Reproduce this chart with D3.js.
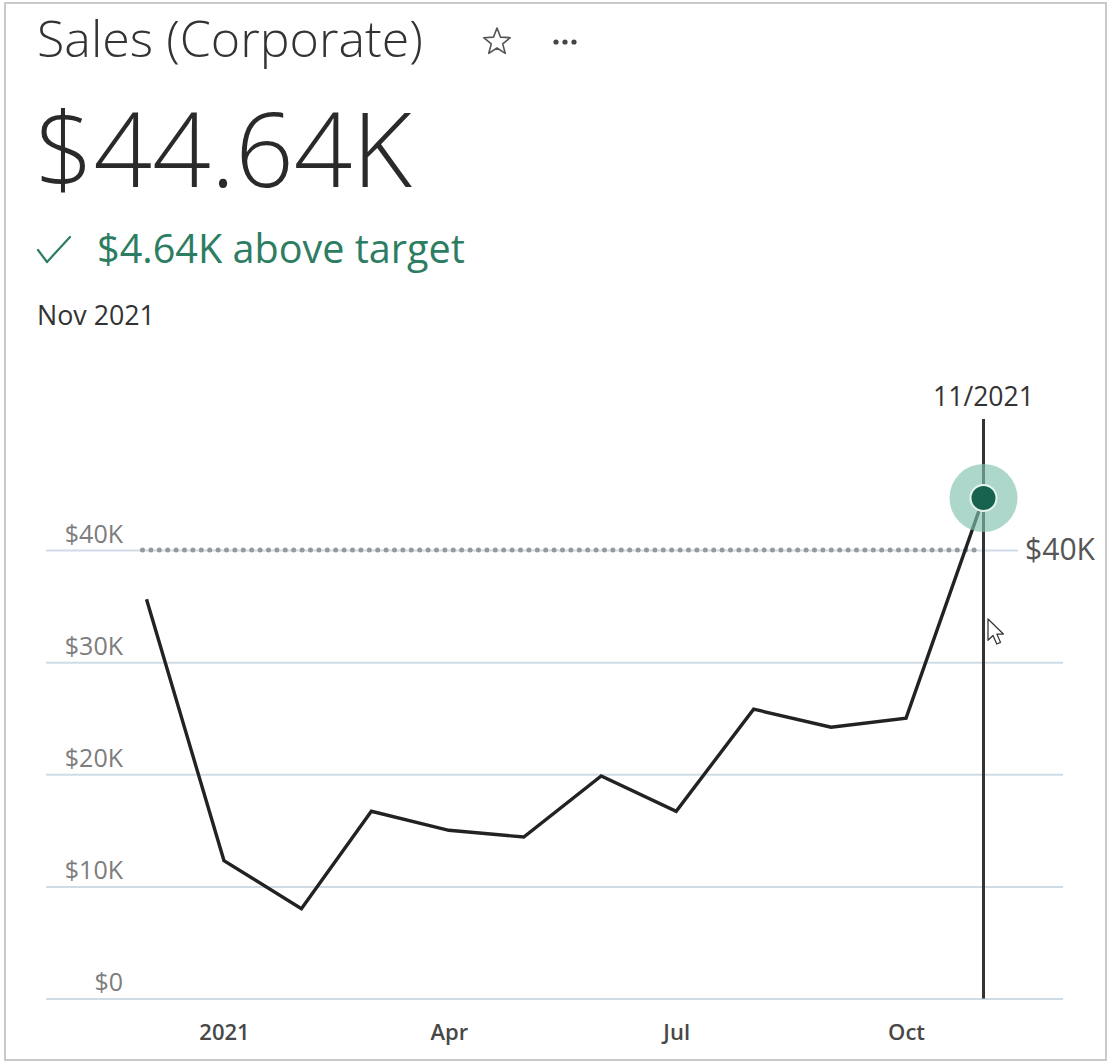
<!DOCTYPE html>
<html>
<head>
<meta charset="utf-8">
<script src="https://cdn.jsdelivr.net/npm/d3@7"></script>
<style>
  body { margin: 0; background: #fff; }
  text { font-family: "Open Sans", "Noto Sans", sans-serif; }
</style>
</head>
<body>
<svg id="chart" width="1109" height="1063"></svg>
<script>
// Monthly corporate sales
const months = ["2020-12", "2021-01", "2021-02", "2021-03", "2021-04", "2021-05",
                "2021-06", "2021-07", "2021-08", "2021-09", "2021-10", "2021-11"];
const sales = [35600, 12300, 8000, 16700, 15000, 14400,
               19850, 16700, 25800, 24200, 25000, 44640];
const target = 40000;

// Axis ticks
const yTicks = [0, 10000, 20000, 30000, 40000];
const yTickLabels = ["$0", "$10K", "$20K", "$30K", "$40K"];
const xTickMonths = ["2021-01", "2021-04", "2021-07", "2021-10"];
const xTickLabels = ["2021", "Apr", "Jul", "Oct"];

const titleText = "Sales (Corporate)";
const selectedIndex = months.length - 1;

const parseMonth = d3.utcParse("%Y-%m");
const data = months.map((m, i) => ({ date: parseMonth(m), value: sales[i] }));
const selected = data[selectedIndex];

const fmtK = v => "$" + d3.format(".2f")(v / 1000) + "K";
const fmtTarget = v => "$" + d3.format("d")(v / 1000) + "K";

const svg = d3.select("#chart");
const green = "#2d7d63";

// Fit a text element to a given width by scaling its font size
function fitWidth(sel, w) {
  const size = parseFloat(sel.attr("font-size"));
  const len = sel.node().getComputedTextLength();
  sel.attr("font-size", (size * w / len).toFixed(2));
  return sel;
}

// Card frame
svg.append("rect")
  .attr("x", 5).attr("y", 3).attr("width", 1101).attr("height", 1057)
  .attr("fill", "#fff").attr("stroke", "#c9c9c9").attr("stroke-width", 2);

// Header
fitWidth(svg.append("text")
  .attr("x", 37).attr("y", 57)
  .attr("font-size", 46).attr("font-weight", 300).attr("fill", "#333")
  .text(titleText), 386);

// Favourite star
const starCx = 497, starCy = 42, rOut = 14, rIn = 6;
const starPts = d3.range(10).map(i => {
  const a = -Math.PI / 2 + i * Math.PI / 5;
  const r = i % 2 === 0 ? rOut : rIn;
  return [starCx + r * Math.cos(a), starCy + r * Math.sin(a)];
});
svg.append("path")
  .attr("d", d3.line()(starPts) + "Z")
  .attr("fill", "none").attr("stroke", "#555").attr("stroke-width", 1.6)
  .attr("stroke-linejoin", "round");

// More menu
svg.selectAll("circle.more").data([556, 565, 574]).join("circle")
  .attr("class", "more")
  .attr("cx", d => d).attr("cy", 42).attr("r", 2.6).attr("fill", "#444");

// Current value
fitWidth(svg.append("text")
  .attr("x", 35).attr("y", 187)
  .attr("font-size", 100).attr("font-weight", 300).attr("fill", "#2a2a2a")
  .text(fmtK(selected.value)), 377);

// Difference to target
svg.append("path")
  .attr("d", "M38,250 L47,262 L70,237")
  .attr("fill", "none").attr("stroke", green).attr("stroke-width", 2.2)
  .attr("stroke-linecap", "round").attr("stroke-linejoin", "round");
fitWidth(svg.append("text")
  .attr("x", 97).attr("y", 263)
  .attr("font-size", 36).attr("fill", green)
  .text(fmtK(selected.value - target) + " above target"), 368);

// Period
fitWidth(svg.append("text")
  .attr("x", 37).attr("y", 325)
  .attr("font-size", 26).attr("fill", "#333")
  .text(d3.utcFormat("%b %Y")(selected.date)), 118);

// Scales
const x = d3.scaleUtc()
  .domain([data[0].date, data[data.length - 1].date])
  .range([146.5, 983.5]);
const y = d3.scaleLinear().domain([0, 40000]).range([998.5, 550]);

const gridLeft = 46, gridRight = 1063;

// Y axis with gridlines
const yAxis = svg.append("g")
  .attr("transform", `translate(${gridLeft},0)`)
  .call(d3.axisLeft(y)
    .tickValues(yTicks)
    .tickFormat((d, i) => yTickLabels[i])
    .tickSize(-(gridRight - gridLeft)));
yAxis.select(".domain").remove();
yAxis.selectAll(".tick line")
  .attr("stroke", "#cfdce6").attr("stroke-width", 2);
yAxis.selectAll(".tick text")
  .attr("x", 123 - gridLeft).attr("dy", -8)
  .attr("text-anchor", "end")
  .attr("font-family", "\"Open Sans\", sans-serif")
  .attr("font-size", 25).attr("fill", "#7d7d7d");

// X axis
const xAxis = svg.append("g")
  .attr("transform", "translate(0,1000)")
  .call(d3.axisBottom(x)
    .tickValues(xTickMonths.map(parseMonth))
    .tickFormat((d, i) => xTickLabels[i])
    .tickSize(0)
    .tickPadding(24));
xAxis.select(".domain").remove();
xAxis.selectAll(".tick text")
  .attr("font-family", "\"Open Sans\", sans-serif")
  .attr("font-size", 22).attr("font-weight", 600).attr("fill", "#484848");

// Target reference line (dotted)
svg.append("line")
  .attr("x1", x(data[0].date) - 4).attr("x2", x(selected.date) - 3)
  .attr("y1", y(target)).attr("y2", y(target))
  .attr("stroke", "#999").attr("stroke-width", 5)
  .attr("stroke-dasharray", "0 8.4").attr("stroke-linecap", "round");

// Target label on the right
const tLabel = svg.append("g");
tLabel.append("rect")
  .attr("x", 1018).attr("y", y(target) - 18).attr("width", 86).attr("height", 34)
  .attr("fill", "#fff");
fitWidth(tLabel.append("text")
  .attr("x", 1025).attr("y", y(target) + 10)
  .attr("font-size", 28).attr("fill", "#555")
  .text(fmtTarget(target)), 70);

// Selection rule
svg.append("line")
  .attr("x1", x(selected.date)).attr("x2", x(selected.date))
  .attr("y1", 419).attr("y2", y(0))
  .attr("stroke", "#333").attr("stroke-width", 3);
fitWidth(svg.append("text")
  .attr("x", x(selected.date)).attr("y", 406)
  .attr("text-anchor", "middle")
  .attr("font-size", 26).attr("fill", "#333")
  .text(d3.utcFormat("%-m/%Y")(selected.date)), 101);

// Sales line
svg.append("path")
  .datum(data)
  .attr("d", d3.line().x(d => x(d.date)).y(d => y(d.value)))
  .attr("fill", "none").attr("stroke", "#222").attr("stroke-width", 3.4)
  .attr("stroke-linejoin", "miter");

// Highlighted point
svg.append("circle")
  .attr("cx", x(selected.date)).attr("cy", y(selected.value)).attr("r", 34)
  .attr("fill", "#7fc2ae").attr("fill-opacity", 0.65);
svg.append("circle")
  .attr("cx", x(selected.date)).attr("cy", y(selected.value)).attr("r", 13)
  .attr("fill", "#17634e").attr("stroke", "#e6f3ee").attr("stroke-width", 2);

// Mouse pointer
const px = 988, py = 619;
svg.append("path")
  .attr("transform", `translate(${px},${py}) scale(1.25)`)
  .attr("d", "M0,0 L0,17 L4,13.2 L7,20 L10,18.7 L7.1,12 L12.3,12 Z")
  .attr("fill", "#fff").attr("stroke", "#333").attr("stroke-width", 1)
  .attr("stroke-linejoin", "round");
</script>
</body>
</html>
